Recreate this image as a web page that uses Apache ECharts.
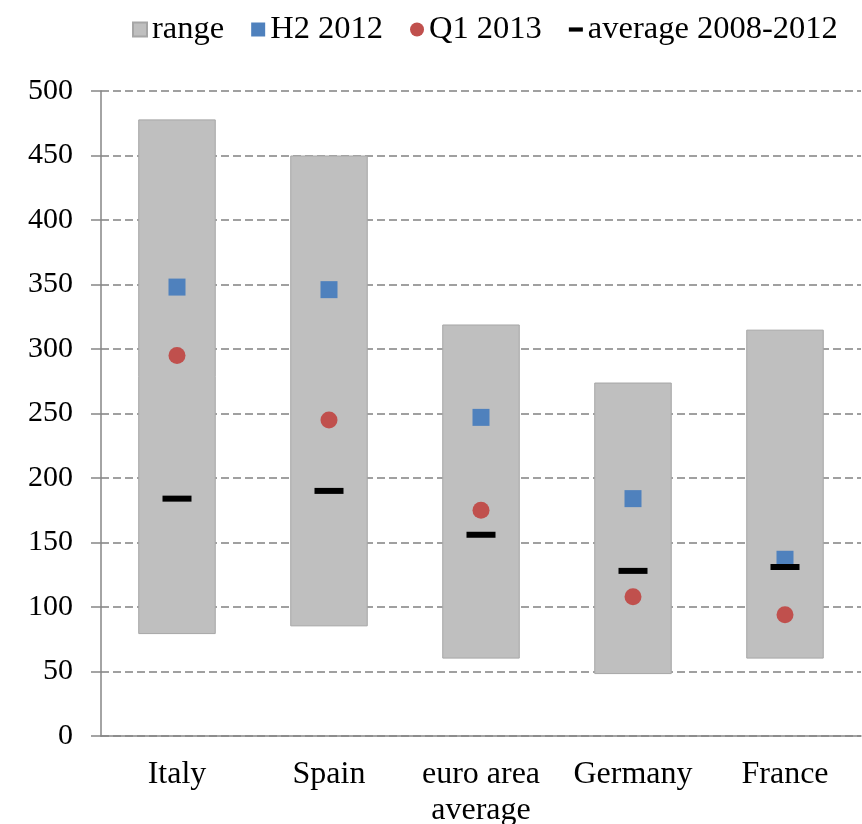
<!DOCTYPE html>
<html>
<head>
<meta charset="utf-8">
<script src="https://cdn.jsdelivr.net/npm/echarts@6/dist/echarts.min.js"></script>
<style>
  html, body { margin: 0; padding: 0; background: #fff; }
  #chart { width: 862px; height: 824px; }
</style>
</head>
<body>
<div id="chart"></div>
<script>
const categories = ['Italy', 'Spain', 'euro area\naverage', 'Germany', 'France'];
const rangeLow = [79, 85, 60, 48, 60];
const rangeHigh = [478, 450, 319, 274, 315];
const h2_2012 = [348, 346, 247, 184, 137];
const q1_2013 = [295, 245, 175, 108, 94];
const avg0812 = [184, 190, 156, 128, 131];

const rangeSpan = rangeHigh.map((v, i) => v - rangeLow[i]);
const font = 'Liberation Serif, Times New Roman, serif';

const chart = echarts.init(document.getElementById('chart'));
chart.setOption({
  animation: false,
  backgroundColor: '#fff',
  textStyle: { fontFamily: font },
  legend: {
    top: 8,
    left: 127,
    itemWidth: 14,
    itemHeight: 14,
    itemGap: 27,
    textStyle: { fontFamily: font, fontSize: 32.5, color: '#000' },
    data: [
      { name: 'range', icon: 'rect' },
      { name: 'H2 2012', icon: 'rect' },
      { name: 'Q1 2013', icon: 'circle' },
      { name: 'average 2008-2012', icon: 'path://M0,0H20V6H0Z' },
    ],
  },
  grid: { left: 101, right: 1, top: 91, bottom: 88, outerBoundsMode: 'none' },
  xAxis: {
    type: 'category',
    data: categories,
    axisLine: { lineStyle: { color: '#868686', width: 1.5 } },
    axisTick: { length: 9, lineStyle: { color: '#868686', width: 1.5 } },
    axisLabel: { interval: 0, color: '#000', fontSize: 32, fontFamily: font, margin: 21, lineHeight: 36 },
  },
  yAxis: {
    type: 'value',
    min: 0,
    max: 500,
    interval: 50,
    axisLine: { show: true, lineStyle: { color: '#868686', width: 1.5 } },
    axisTick: { show: true, length: 10, lineStyle: { color: '#868686', width: 1.5 } },
    axisLabel: { color: '#000', fontSize: 30, fontFamily: font, margin: 28 },
    splitLine: { lineStyle: { color: '#a0a0a0', width: 2, type: [8, 4] } },
  },
  series: [
    {
      name: 'base',
      type: 'bar',
      stack: 'r',
      data: rangeLow,
      barWidth: '51%',
      itemStyle: { color: 'transparent' },
      silent: true,
    },
    {
      name: 'range',
      type: 'bar',
      stack: 'r',
      data: rangeSpan,
      barWidth: '51%',
      itemStyle: { color: '#bfbfbf', borderColor: '#a6a6a6', borderWidth: 1 },
    },
    {
      name: 'H2 2012',
      type: 'scatter',
      data: h2_2012,
      symbol: 'rect',
      symbolSize: 17,
      itemStyle: { color: '#4f81bd', opacity: 1 },
    },
    {
      name: 'Q1 2013',
      type: 'scatter',
      data: q1_2013,
      symbol: 'circle',
      symbolSize: 17,
      itemStyle: { color: '#c0504d', opacity: 1 },
    },
    {
      name: 'average 2008-2012',
      type: 'scatter',
      data: avg0812,
      symbol: 'rect',
      symbolSize: [29, 6],
      itemStyle: { color: '#000', opacity: 1 },
    },
  ],
});
</script>
</body>
</html>
